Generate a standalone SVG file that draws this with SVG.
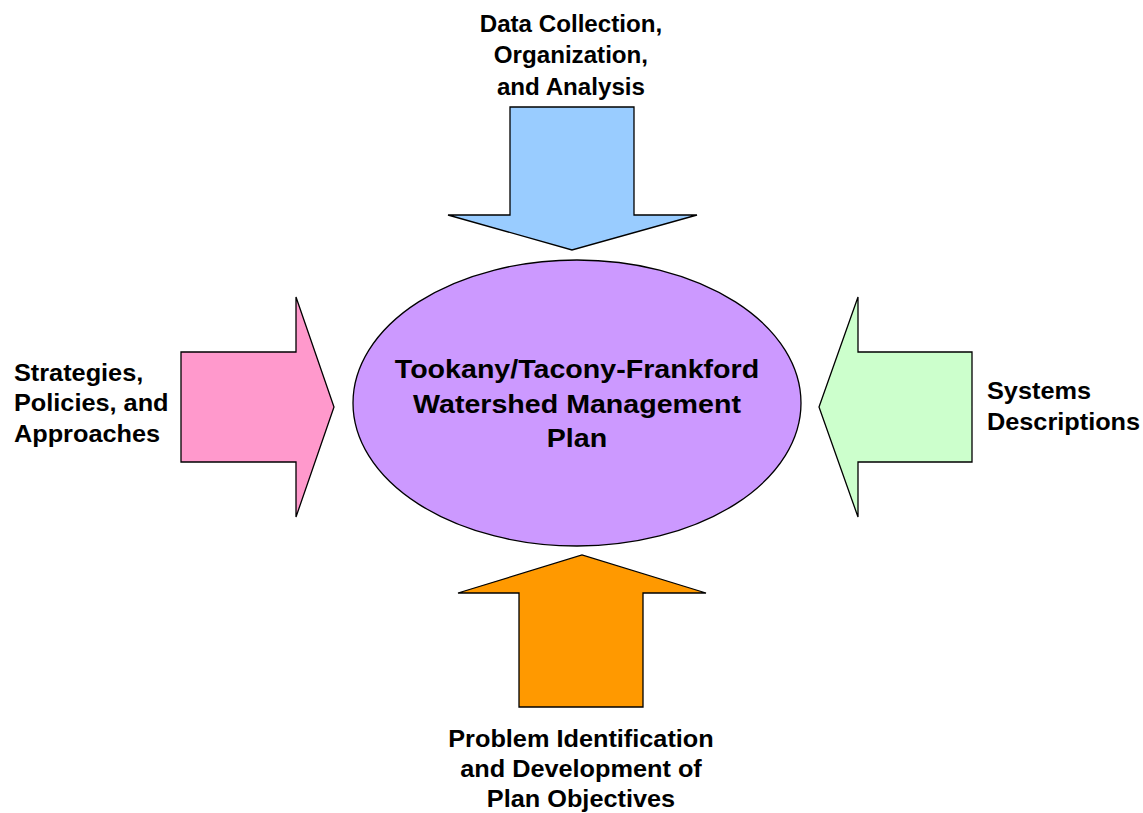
<svg xmlns="http://www.w3.org/2000/svg" width="1143" height="813" viewBox="0 0 1143 813">
<style>
.s{stroke:#000;stroke-width:1.3;stroke-linejoin:miter}
.t{font-family:"Liberation Sans",Arial,sans-serif;font-weight:bold;font-size:23px;fill:#000}
.c{font-family:"Liberation Sans",Arial,sans-serif;font-weight:bold;font-size:26px;fill:#000}
</style>
<rect width="1143" height="813" fill="#fff"/>
<g id="connectors">
<polygon id="arrow-top" class="s" fill="#99CCFF" points="510,107 634,107 634,215 697,215 572,250 448,215 510,215"/>
<polygon id="arrow-left" class="s" fill="#FF99CC" points="181,352 296,352 296,297 334,407 296,517 296,462 181,462"/>
<polygon id="arrow-right" class="s" fill="#CCFFCC" points="972,352 858,352 858,297 819,407 858,517 858,462 972,462"/>
<polygon id="arrow-bottom" class="s" fill="#FF9900" points="519,707 643,707 643,593 706,593 582,555 458,593 519,593"/>
</g>
<g id="center">
<ellipse class="s" fill="#CC99FF" cx="577" cy="403" rx="224" ry="143"/>
<text class="c" text-anchor="middle" transform="matrix(1.1,0,0,1,-57.7,0)"><tspan x="577" y="378">Tookany/Tacony-Frankford</tspan><tspan x="577" y="413">Watershed Management</tspan><tspan x="577" y="447">Plan</tspan></text>
</g>
<g id="top-label">
<text class="t" text-anchor="middle" transform="matrix(1.05,0,0,1,-28.6,0)"><tspan x="571" y="32">Data Collection,</tspan><tspan x="571" y="63">Organization,</tspan><tspan x="571" y="95">and Analysis</tspan></text>
</g>
<g id="left-label">
<text class="t" transform="matrix(1.1,0,0,1,-1.4,0)"><tspan x="14" y="381">Strategies,</tspan><tspan x="14" y="411">Policies, and</tspan><tspan x="14" y="442">Approaches</tspan></text>
</g>
<g id="right-label">
<text class="t" transform="matrix(1.1,0,0,1,-98.7,0)"><tspan x="987" y="399">Systems</tspan><tspan x="987" y="430">Descriptions</tspan></text>
</g>
<g id="bottom-label">
<text class="t" text-anchor="middle" transform="matrix(1.1,0,0,1,-58.1,0)"><tspan x="581" y="747">Problem Identification</tspan><tspan x="581" y="777">and Development of</tspan><tspan x="581" y="807">Plan Objectives</tspan></text>
</g>
</svg>
